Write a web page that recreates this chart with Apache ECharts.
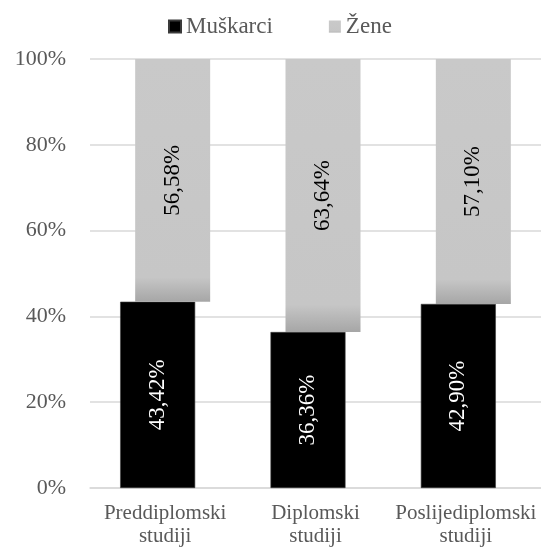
<!DOCTYPE html>
<html><head><meta charset="utf-8">
<script src="https://cdn.jsdelivr.net/npm/echarts@6/dist/echarts.min.js"></script>
<style>html,body{margin:0;padding:0;background:#fff}#c{width:541px;height:548px}</style>
</head><body><div id="c"></div>
<script>
const categories = ['Preddiplomski\nstudiji', 'Diplomski\nstudiji', 'Poslijediplomski\nstudiji'];
const muskarci = [43.42, 36.36, 42.90];
const zene = [56.58, 63.64, 57.10];
const yTicks = [0, 20, 40, 60, 80, 100];

const fmt = v => v.toFixed(2).replace('.', ',') + '%';
const font = 'Liberation Serif';
const chart = echarts.init(document.getElementById('c'));
chart.setOption({
  animation: false,
  textStyle: { fontFamily: font },
  legend: {
    data: ['Muškarci', 'Žene'],
    top: 10, left: 163,
    icon: 'rect', itemWidth: 12, itemHeight: 12, itemGap: 56,
    textStyle: { fontFamily: font, fontSize: 23, color: '#595959' }
  },
  grid: { left: 90, right: 0, top: 59, bottom: 59 },
  xAxis: {
    type: 'category', data: categories,
    axisLine: { lineStyle: { color: '#d9d9d9', width: 1.5 } },
    axisTick: { show: false },
    axisLabel: { interval: 0, fontFamily: font, fontSize: 21, color: '#595959', lineHeight: 23, margin: 14 }
  },
  yAxis: {
    type: 'value', min: 0, max: 100, interval: 20,
    axisLine: { show: false }, axisTick: { show: false },
    splitLine: { lineStyle: { color: '#d9d9d9', width: 1.5 } },
    axisLabel: { fontFamily: font, fontSize: 22, color: '#595959', margin: 24,
      formatter: v => yTicks.includes(v) ? v + '%' : '' }
  },
  series: [
    {
      name: 'Muškarci', type: 'bar', stack: 'm', data: muskarci,
      barWidth: 75, barGap: '-80%',
      itemStyle: { color: '#000000', borderColor: '#3a3a3a', borderWidth: 0.6 },
      label: { show: true, position: 'inside', rotate: 90, color: '#ffffff',
        fontFamily: font, fontSize: 23, formatter: p => fmt(p.value) }
    },
    {
      name: 'base', type: 'bar', stack: 'z', data: muskarci,
      barWidth: 75, barGap: '-80%',
      itemStyle: { color: 'rgba(0,0,0,0)' }, label: { show: false }, silent: true
    },
    {
      name: 'Žene', type: 'bar', stack: 'z', data: zene,
      barWidth: 75, barGap: '-80%',
      itemStyle: {
        color: new echarts.graphic.LinearGradient(0, 0, 0, 1, [
          { offset: 0, color: '#c9c9c9' },
          { offset: 0.9, color: '#c6c6c6' },
          { offset: 1, color: '#a6a6a6' }
        ])
      },
      label: { show: true, position: 'inside', rotate: 90, color: '#000000',
        fontFamily: font, fontSize: 23, formatter: p => fmt(p.value) }
    }
  ]
});
</script></body></html>
